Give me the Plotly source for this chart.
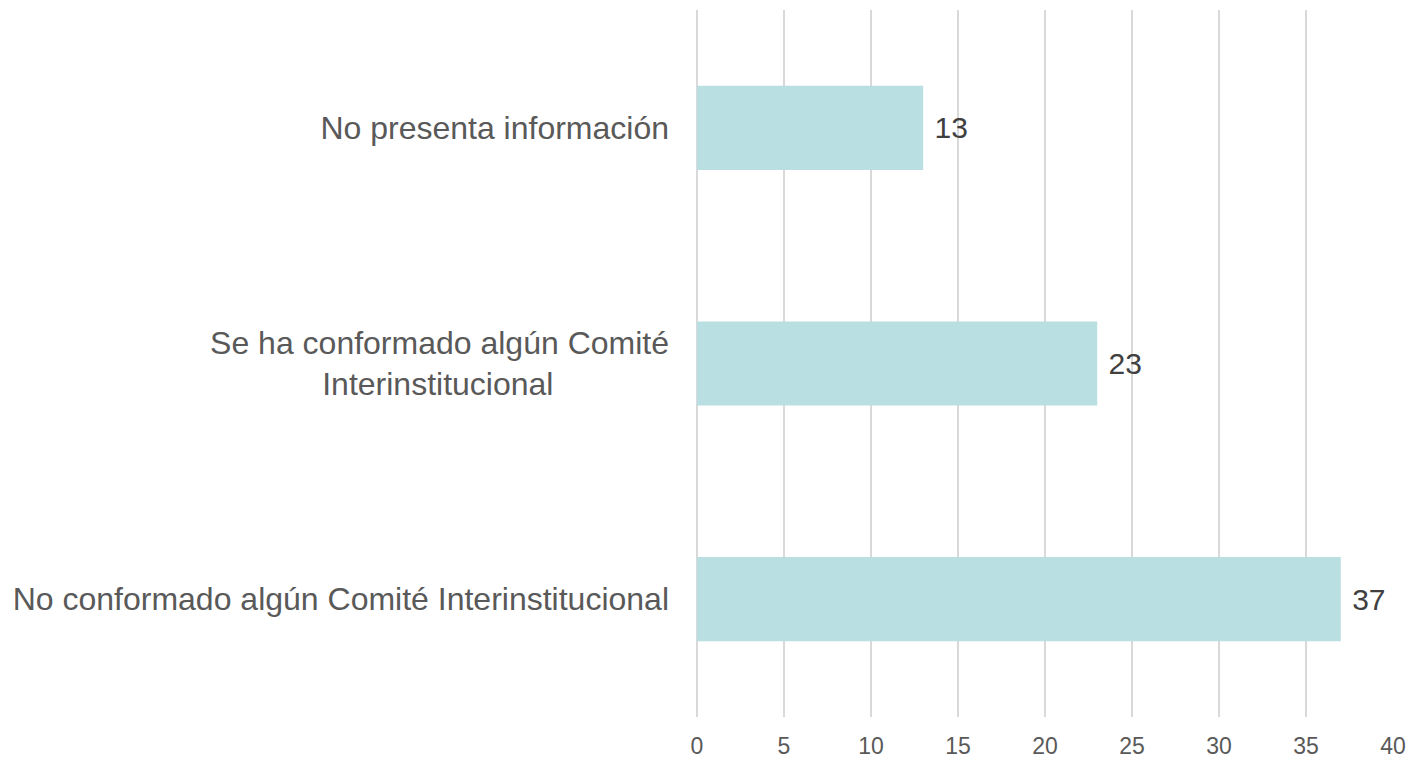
import plotly.graph_objects as go

categories = [
    "No conformado algún Comité Interinstitucional",
    "Se ha conformado algún Comité<br>Interinstitucional" + "&nbsp;" * 13,
    "No presenta información",
]
values = [37, 23, 13]
tick_vals = [0, 5, 10, 15, 20, 25, 30, 35, 40]

fig = go.Figure(
    go.Bar(
        y=categories,
        x=values,
        orientation="h",
        marker=dict(color="#BADFE2", line=dict(width=0)),
        text=values,
        texttemplate="&nbsp;%{x}",
        textposition="outside",
        textfont=dict(family="Liberation Sans, Arial, sans-serif", size=30, color="#404040"),
        cliponaxis=False,
        width=0.357,
    )
)

fig.update_layout(
    width=1408,
    height=752,
    margin=dict(l=689, r=23, t=2, b=43, autoexpand=False),
    paper_bgcolor="white",
    plot_bgcolor="white",
    showlegend=False,
    font=dict(family="Liberation Sans, Arial, sans-serif"),
    xaxis=dict(
        range=[0, 40],
        tickvals=tick_vals,
        showgrid=True,
        gridcolor="#D9D9D9",
        gridwidth=1.5,
        zeroline=True,
        zerolinecolor="#D9D9D9",
        zerolinewidth=1.5,
        showline=False,
        automargin=False,
        tickfont=dict(size=23, color="#595959"),
        ticklabelstandoff=13,
    ),
    yaxis=dict(
        range=[-0.5, 2.5],
        showgrid=False,
        zeroline=False,
        showline=False,
        automargin=False,
        tickfont=dict(size=32, color="#595959"),
        ticklabelstandoff=27,
    ),
)

fig.write_html("out.html")
